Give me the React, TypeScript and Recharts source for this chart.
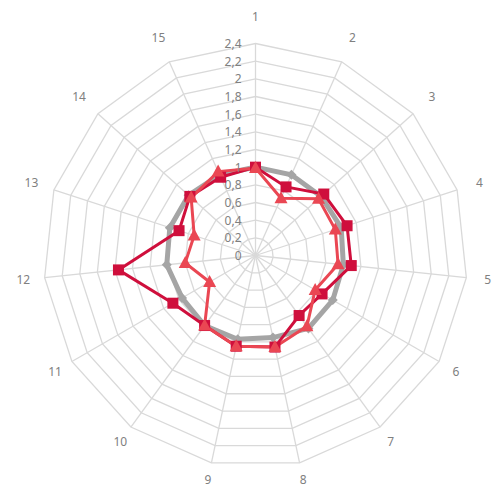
import React from "react";
import {
    RadarChart, Radar, PolarGrid, PolarAngleAxis, PolarRadiusAxis
} from "recharts";

const categories = ["1", "2", "3", "4", "5", "6", "7", "8", "9", "10", "11", "12", "13", "14", "15"];
const serieGris = [1.0, 1.0, 1.0, 1.02, 1.0, 1.01, 1.02, 0.95, 0.97, 0.98, 0.96, 1.01, 1.02, 1.02, 1.0];
const serieRoja = [1.0, 0.85, 1.04, 1.09, 1.09, 0.87, 0.84, 1.06, 1.05, 0.98, 1.08, 1.56, 0.91, 1.0, 0.97];
const serieClara = [0.99, 0.71, 0.96, 0.95, 0.94, 0.78, 0.99, 1.06, 1.05, 0.98, 0.6, 0.8, 0.73, 0.98, 1.04];
const radiusTicks = [0, 0.2, 0.4, 0.6, 0.8, 1, 1.2, 1.4, 1.6, 1.8, 2, 2.2, 2.4];

const data = categories.map((name, i) => ({
    name,
    gris: serieGris[i],
    roja: serieRoja[i],
    clara: serieClara[i],
}));

const CX = 255.5;
const CY = 255.5;
const R = 212;

const GRIS = "#a5a5a5";
const ROJA = "#cf0f3c";
const CLARA = "#ea4753";
const FONT = "'Noto Sans', sans-serif";

// eslint-disable-next-line @typescript-eslint/no-explicit-any
const AngleTick = (props: any) => {
    const deg = props.payload.coordinate;
    const rad = (deg * Math.PI) / 180;
    const r = 234 + 5 * Math.sin(rad);
    return (
        <text x={CX + r * Math.cos(rad)} y={CY - r * Math.sin(rad)} textAnchor="middle"
            dominantBaseline="central" fill="#808080" fontSize={12} fontFamily={FONT}>
            {props.payload.value}
        </text>
    );
};

// eslint-disable-next-line @typescript-eslint/no-explicit-any
const RadiusTick = (props: any) => (
    <text x={props.x - 14} y={props.y} textAnchor="end" dominantBaseline="central"
        fill="#808080" fontSize={12} fontFamily={FONT}>
        {String(props.payload.value).replace(".", ",")}
    </text>
);

// eslint-disable-next-line @typescript-eslint/no-explicit-any
const Diamond = (props: any) => {
    const { cx, cy } = props;
    const s = 5;
    return <polygon points={`${cx},${cy - s} ${cx + s},${cy} ${cx},${cy + s} ${cx - s},${cy}`} fill={GRIS} />;
};

// eslint-disable-next-line @typescript-eslint/no-explicit-any
const Square = (props: any) => {
    const { cx, cy } = props;
    return <rect x={cx - 5.5} y={cy - 5.5} width={11} height={11} fill={ROJA} />;
};

// eslint-disable-next-line @typescript-eslint/no-explicit-any
const Triangle = (props: any) => {
    const { cx, cy } = props;
    return <polygon points={`${cx},${cy - 7} ${cx + 6.5},${cy + 5} ${cx - 6.5},${cy + 5}`} fill={CLARA} />;
};

export default function App() {
    return (
        <div style={{ position: "absolute", left: 0, top: 0, width: 496, height: 493, background: "#fff" }}>
            <RadarChart width={496} height={493} data={data} cx={CX} cy={CY} outerRadius={R}
                margin={{ top: 0, right: 0, bottom: 0, left: 0 }}>
                <PolarGrid gridType="polygon" stroke="#d9d9d9" strokeWidth={1.3} outerRadius={220} />
                <PolarAngleAxis dataKey="name" tick={AngleTick} axisLine={false} tickLine={false} />
                <PolarRadiusAxis angle={90} domain={[0, 2.4]} ticks={radiusTicks} tick={RadiusTick}
                    axisLine={false} tickLine={false} />
                <Radar dataKey="gris" stroke={GRIS} strokeWidth={5} fill="none" fillOpacity={0}
                    dot={Diamond} isAnimationActive={false} />
                <Radar dataKey="roja" stroke={ROJA} strokeWidth={3} fill="none" fillOpacity={0}
                    dot={Square} isAnimationActive={false} />
                <Radar dataKey="clara" stroke={CLARA} strokeWidth={3} fill="none" fillOpacity={0}
                    dot={Triangle} isAnimationActive={false} />
            </RadarChart>
        </div>
    );
}
